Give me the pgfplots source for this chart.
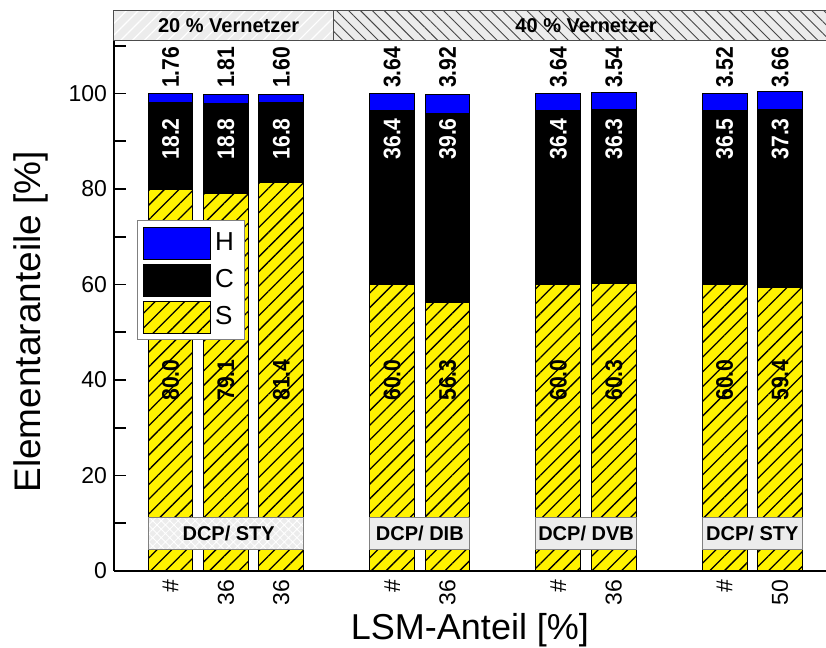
\documentclass[border=0pt]{standalone}
\usepackage{pgfplots}
\pgfplotsset{compat=1.18}
\usepackage{pgfplotstable}
\usepackage{fontspec}
\setmainfont{Liberation Sans}
\usetikzlibrary{patterns,patterns.meta}

\pgfplotstableread{
x S C H
0 80.0 18.2 1.76
1 79.1 18.8 1.81
2 81.4 16.8 1.60
4 60.0 36.4 3.64
5 56.3 39.6 3.92
7 60.0 36.4 3.64
8 60.3 36.3 3.54
10 60.0 36.5 3.52
11 59.4 37.3 3.66
}\datatable

\tikzset{blab/.style={rotate=90, xscale=0.88, font=\bfseries\fontsize{12}{14}\selectfont}}
\newcommand\lab[4]{%
  \node[blab] at (axis cs:#1,40) {#2};
  \node[blab, text=white] at (axis cs:#1,90.5) {#3};
  \node[blab] at (axis cs:#1,105.5) {#4};
}
\newcommand\annot{%
\draw[gray, line width=0.5pt, preaction={fill=gray!15}, pattern={Hatch[angle=45,distance=3pt,line width=0.4pt]}, pattern color=white]
  (axis cs:-0.405,4.4) rectangle (axis cs:2.405,11.3);
\draw[gray, line width=0.5pt, fill=gray!15] (axis cs:3.595,4.4) rectangle (axis cs:5.405,11.3);
\draw[gray, line width=0.5pt, fill=gray!15] (axis cs:6.595,4.4) rectangle (axis cs:8.405,11.3);
\draw[gray, line width=0.5pt, fill=gray!15] (axis cs:9.595,4.4) rectangle (axis cs:11.405,11.3);
\draw[gray!60!black, line width=0.5pt, preaction={fill=gray!15}, pattern={Lines[angle=45,distance=4.2pt,line width=0.6pt]}, pattern color=white]
  (axis cs:-1.02,111) rectangle (axis cs:2.95,117.4);
\draw[gray!60!black, line width=0.5pt, preaction={fill=gray!15}, pattern={Lines[angle=-45,distance=4.2pt,line width=0.45pt]}, pattern color=gray!55!black]
  (axis cs:2.95,111) rectangle (axis cs:11.83,117.4);
\lab{0}{80.0}{18.2}{1.76}
\lab{1}{79.1}{18.8}{1.81}
\lab{2}{81.4}{16.8}{1.60}
\lab{4}{60.0}{36.4}{3.64}
\lab{5}{56.3}{39.6}{3.92}
\lab{7}{60.0}{36.4}{3.64}
\lab{8}{60.3}{36.3}{3.54}
\lab{10}{60.0}{36.5}{3.52}
\lab{11}{59.4}{37.3}{3.66}
\node[font=\bfseries\fontsize{10}{12}\selectfont] at (axis cs:1.05,7.85) {DCP/ STY};
\node[font=\bfseries\fontsize{10}{12}\selectfont] at (axis cs:4.5,7.85) {DCP/ DIB};
\node[font=\bfseries\fontsize{10}{12}\selectfont] at (axis cs:7.5,7.85) {DCP/ DVB};
\node[font=\bfseries\fontsize{10}{12}\selectfont] at (axis cs:10.5,7.85) {DCP/ STY};
\node[font=\bfseries\fontsize{10}{12}\selectfont] at (axis cs:1.05,114.2) {20 \% Vernetzer};
\node[font=\bfseries\fontsize{10}{12}\selectfont] at (axis cs:7.5,114.2) {40 \% Vernetzer};
}

\begin{document}
\begin{tikzpicture}
\begin{axis}[
 scale only axis, width=356pt, height=265pt,
 xmin=-1.02, xmax=11.83, ymin=0, ymax=111,
 ybar stacked, bar width=0.81,
 axis x line*=bottom, axis y line*=left,
 axis line style={-, line width=0.8pt},
 clip=false,
 xtick={0,1,2,4,5,7,8,10,11},
 xticklabels={\#,36,36,\#,36,\#,36,\#,50},
 x tick style={draw=none},
 xticklabel shift=1pt,
 xticklabel style={rotate=90, anchor=east, font=\fontsize{11.5}{13}\selectfont},
 ytick={0,20,...,100}, minor ytick={10,30,...,110},
 tick align=inside, major tick length=6pt, minor tick length=6pt,
 y tick style={line width=0.8pt, black},
 yticklabel style={font=\fontsize{11.5}{13}\selectfont},
 /pgf/number format/assume math mode=true,
 xlabel={LSM-Anteil [\%]}, ylabel={Elementaranteile [\%]},
 xlabel style={at={(axis description cs:0.5,-0.079)}, anchor=north, inner sep=0pt, font=\fontsize{18}{21}\selectfont},
 ylabel style={at={(axis description cs:-0.117,0.47)}, anchor=center, inner sep=0pt, font=\fontsize{18.5}{21}\selectfont},
 legend image code/.code={\draw[#1] (0pt,-8pt) rectangle (33.5pt,8pt);},
 reverse legend,
 legend style={at={(0.032,0.662)}, anchor=north west, draw=gray, fill=white,
   font=\fontsize{13}{15}\selectfont, row sep=2pt, inner sep=3pt},
 legend cell align=left,
 after end axis/.code={\annot},
]
\addplot[fill=yellow, draw=black, line width=0.5pt,
  postaction={pattern={Lines[angle=45,distance=5.2pt,line width=0.65pt]},pattern color=black}]
  table[x=x,y=S]{\datatable};
\addplot[fill=black, draw=black, line width=0.5pt] table[x=x,y=C]{\datatable};
\addplot[fill=blue, draw=black, line width=0.5pt] table[x=x,y=H]{\datatable};
\legend{S,C,H}
\end{axis}
\pgfresetboundingbox
\path[use as bounding box] ([shift={(-57pt,-38.5pt)}]current axis.south west) rectangle ([shift={(0pt,20.5pt)}]current axis.north east);
\end{tikzpicture}
\end{document}
